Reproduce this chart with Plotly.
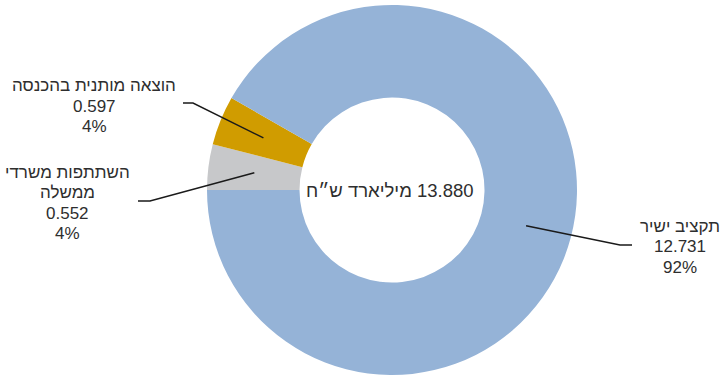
import math
import plotly.graph_objects as go

# ---- data ----
labels = ["השתתפות משרדי ממשלה", "הוצאה מותנית בהכנסה", "תקציב ישיר"]
label_lines = [["השתתפות משרדי", "ממשלה"], ["הוצאה מותנית בהכנסה"], ["תקציב ישיר"]]
values = [0.552, 0.597, 12.731]
colors = ["#c7c8ca", "#d09c00", "#95b3d7"]
unit = "מיליארד ש״ח"

# ---- layout constants (pixels) ----
W, H = 720, 375
CX, CY, R = 392, 190, 185
HOLE = 0.5
ROT = -90  # first slice starts at 9 o'clock, clockwise
LINE_GAP = 20.5
FONT = "Liberation Sans, Arial, sans-serif"
TXT = "#2e2e2e"

# label placement: (text centre x, first line centre y, elbow x, elbow y, stub end x)
label_pos = [
    (67, 172, 150, 201, 138),
    (94, 85.5, 193, 103, 183),
    (680, 226, 620, 245, 632),
]

total = sum(values)

fig = go.Figure()
fig.add_trace(go.Pie(
    labels=labels, values=values, hole=HOLE, sort=False,
    direction="clockwise", rotation=ROT,
    marker=dict(colors=colors, line=dict(width=0)),
    textinfo="none", hoverinfo="label+value+percent", showlegend=False,
    domain=dict(x=[(CX - R) / W, (CX + R) / W], y=[(H - CY - R) / H, (H - CY + R) / H]),
))
# invisible trace so the pixel-based cartesian axes exist
fig.add_trace(go.Scatter(x=[0, W], y=[0, H], mode="markers", marker=dict(opacity=0),
                         hoverinfo="skip", showlegend=False))

cum = 0.0
annotations = []
shapes = []
for i, v in enumerate(values):
    mid = cum + v / 2
    cum += v
    ang = math.radians(ROT + 360 * mid / total)
    rr = R * (1 + HOLE) / 2
    ax = CX + rr * math.sin(ang)
    ay = CY - rr * math.cos(ang)
    tx, ty, ex, ey, sx = label_pos[i]
    shapes.append(dict(
        type="path", xref="x", yref="y", layer="above",
        path=f"M {ax:.2f} {ay:.2f} L {ex} {ey} L {sx} {ey}",
        line=dict(color="#1a1a1a", width=1.5),
    ))
    pct = round(100 * v / total)
    lines = label_lines[i] + [f"{v:.3f}", f"{pct}%"]
    for k, t in enumerate(lines):
        annotations.append(dict(
            x=tx, y=ty + k * LINE_GAP, xref="x", yref="y", showarrow=False,
            xanchor="center", yanchor="middle", text=t,
            font=dict(size=17, color=TXT, family=FONT),
        ))

annotations.append(dict(
    x=CX - 2, y=CY, xref="x", yref="y", showarrow=False, xanchor="center", yanchor="middle",
    text=f"\u200f{total:.3f} {unit}",
    font=dict(size=18.5, color=TXT, family=FONT),
))

fig.update_layout(
    width=W, height=H, margin=dict(l=0, r=0, t=0, b=0),
    paper_bgcolor="white", plot_bgcolor="rgba(0,0,0,0)",
    xaxis=dict(range=[0, W], visible=False, fixedrange=True),
    yaxis=dict(range=[H, 0], visible=False, fixedrange=True),
    annotations=annotations, shapes=shapes,
)

fig.write_html(
    "out.html",
    config={"displayModeBar": False},
    post_script="document.body.style.margin='0';document.body.style.overflow='hidden';",
)
